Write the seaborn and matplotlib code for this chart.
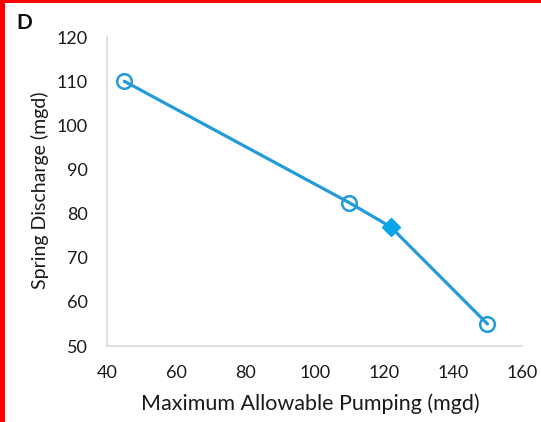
import matplotlib
matplotlib.use("Agg")
import matplotlib.pyplot as plt
import seaborn as sns
import pandas as pd
from matplotlib.patches import Rectangle

sns.set_style("white")
plt.rcParams['font.family'] = ['Lato', 'DejaVu Sans']

# Data
pumping = [45, 110, 122, 150]
discharge = [110, 82.5, 77, 55]
marker_kind = ["scenario", "scenario", "current", "scenario"]
x_ticks = [40, 60, 80, 100, 120, 140, 160]
y_ticks = [50, 60, 70, 80, 90, 100, 110, 120]

df = pd.DataFrame({"pumping": pumping, "discharge": discharge, "kind": marker_kind})

blue = "#239BD8"
fig = plt.figure(figsize=(5.41, 4.22), dpi=100)
ax = fig.add_axes([0.198, 0.18, 0.767, 0.732])

sns.lineplot(data=df, x="pumping", y="discharge", sort=False, color=blue,
             linewidth=2.3, ax=ax)
sc = df[df.kind == "scenario"]
cur = df[df.kind == "current"]
ax.plot(sc.pumping, sc.discharge, linestyle="none", marker="o", markersize=10.5,
        markerfacecolor="none", markeredgecolor=blue, markeredgewidth=1.8, zorder=5)
ax.plot(cur.pumping, cur.discharge, linestyle="none", marker="D", markersize=9,
        markerfacecolor="#0AA6E8", markeredgecolor="#0AA6E8", zorder=5)

ax.set_xlim(40, 160)
ax.set_ylim(50, 120)
ax.set_xticks(x_ticks)
ax.set_yticks(y_ticks)
ax.tick_params(axis="both", length=0, labelsize=13, colors="#1A1A1A")
ax.tick_params(axis="y", pad=14)
ax.tick_params(axis="x", pad=14)
ax.set_xlabel("Maximum Allowable Pumping (mgd)", fontsize=15.5, color="#1A1A1A")
ax.set_ylabel("Spring Discharge (mgd)", fontsize=14, color="#1A1A1A")
ax.xaxis.set_label_coords(0.49, -0.188)
ax.xaxis.label.set_va("center")
ax.yaxis.set_label_coords(-0.161, 0.505)
ax.yaxis.label.set_va("center")
for s in ["top", "right"]:
    ax.spines[s].set_visible(False)
for s in ["left", "bottom"]:
    ax.spines[s].set_color("#D9D9D9")
    ax.spines[s].set_linewidth(1.2)
ax.grid(False)

fig.text(0.044, 0.946, "D", fontsize=15, fontweight="bold", color="#111111",
         ha="center", va="center")

# Red border strips on left and top
fig.patches.append(Rectangle((0, 0), 0.0095, 1, transform=fig.transFigure,
                             facecolor="#FF0000", edgecolor="none", zorder=10))
fig.patches.append(Rectangle((0, 0.993), 1, 0.007, transform=fig.transFigure,
                             facecolor="#FF0000", edgecolor="none", zorder=10))

fig.savefig("out.png", dpi=100)
